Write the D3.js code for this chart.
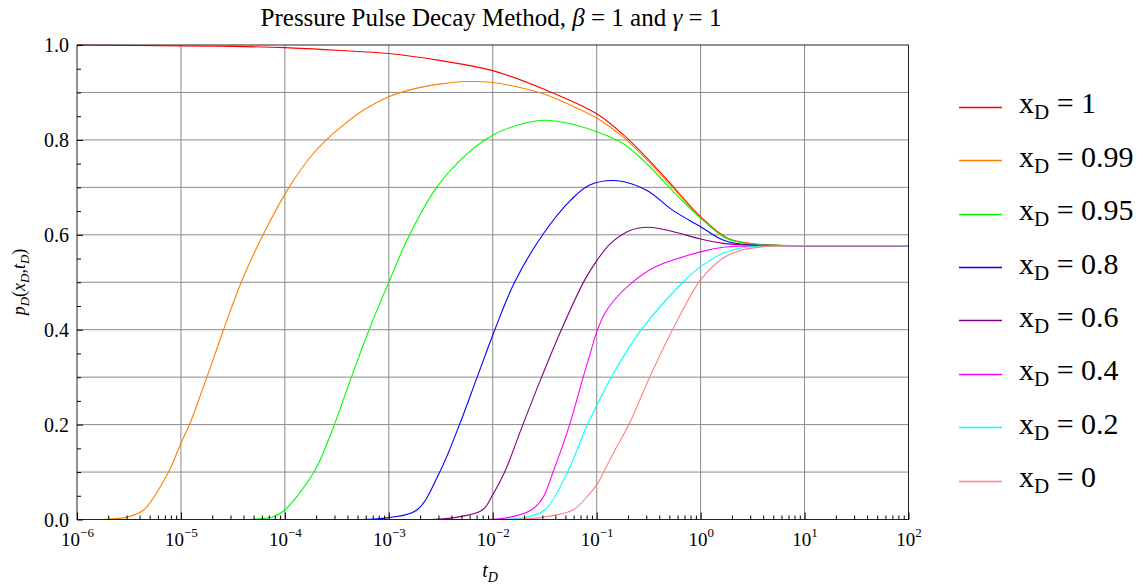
<!DOCTYPE html>
<html>
<head>
<meta charset="utf-8">
<script src="https://cdn.jsdelivr.net/npm/d3@7"></script>
<style>
  html, body { margin: 0; padding: 0; background: #ffffff; }
  svg { display: block; font-family: "Liberation Serif", "DejaVu Serif", serif; }
</style>
</head>
<body>
<svg id="chart" width="1143" height="588"></svg>
<script>
// ---------- data ----------
const seriesNames = ["1", "0.99", "0.95", "0.8", "0.6", "0.4", "0.2", "0"];
const seriesColors = ["#ff0000", "#ff8000", "#00ff00", "#0000ff", "#800080", "#ff00ff", "#00ffff", "#ff8080"];

// log10(t_D) sample positions and p_D values for each x_D
const logT_x100 = [-6, -5, -4.5, -4, -3.5, -3, -2.5, -2, -1.5, -1, -0.75, -0.5, -0.25, 0, 0.25, 0.5, 0.75, 1, 2];
const p_x100    = [1.0, 0.998, 0.997, 0.9945, 0.989, 0.982, 0.967, 0.946, 0.906, 0.855, 0.812, 0.758, 0.698, 0.638, 0.594, 0.581, 0.578, 0.577, 0.577];

const logT_x099 = [-6, -5.75, -5.52, -5.36, -5.12, -5.0, -4.92, -4.75, -4.59, -4.42, -4.21, -3.96, -3.75, -3.6, -3.5, -3.25, -3.0, -2.75, -2.5, -2.25, -2.0, -1.75, -1.5, -1.25, -1.0, -0.75, -0.5, -0.25, 0, 0.25, 0.5, 0.75, 1, 2];
const p_x099    = [0, 0, 0.005, 0.02, 0.10, 0.161, 0.199, 0.30, 0.40, 0.50, 0.60, 0.70, 0.765, 0.80, 0.82, 0.862, 0.891, 0.908, 0.918, 0.923, 0.921, 0.911, 0.896, 0.873, 0.846, 0.807, 0.754, 0.695, 0.636, 0.593, 0.5805, 0.578, 0.577, 0.577];

const logT_x095 = [-6, -4.35, -4.11, -4.0, -3.72, -3.567, -3.36, -3.19, -3.0, -2.8, -2.54, -2.25, -2.0, -1.75, -1.5, -1.25, -1.0, -0.75, -0.5, -0.25, 0, 0.25, 0.5, 0.75, 1, 2];
const p_x095    = [0, 0, 0.006, 0.02, 0.10, 0.175, 0.30, 0.40, 0.50, 0.60, 0.70, 0.770, 0.810, 0.832, 0.8415, 0.834, 0.817, 0.793, 0.746, 0.688, 0.635, 0.592, 0.580, 0.578, 0.577, 0.577];

const logT_x080 = [-6, -3.25, -3.0, -2.73, -2.51, -2.32, -2.15, -1.98, -1.79, -1.52, -1.25, -1.067, -0.8, -0.52, -0.27, 0, 0.215, 0.4, 0.75, 1, 2];
const p_x080    = [0, 0, 0.004, 0.02, 0.10, 0.20, 0.30, 0.40, 0.50, 0.60, 0.673, 0.705, 0.714, 0.694, 0.652, 0.617, 0.589, 0.580, 0.5775, 0.577, 0.577];

const logT_x060 = [-6, -2.6, -2.37, -2.1, -2.0, -1.885, -1.71, -1.53, -1.34, -1.115, -1.0, -0.875, -0.68, -0.5, -0.27, 0, 0.215, 0.5, 1, 2];
const p_x060    = [0, 0, 0.004, 0.02, 0.052, 0.10, 0.20, 0.30, 0.40, 0.505, 0.545, 0.580, 0.609, 0.616, 0.607, 0.591, 0.582, 0.578, 0.577, 0.577];

const logT_x040 = [-6, -2.05, -1.85, -1.63, -1.52, -1.42, -1.26, -1.13, -1.066, -1.0, -0.92, -0.84, -0.666, -0.43, 0, 0.215, 0.4, 1, 2];
const p_x040    = [0, 0, 0.004, 0.02, 0.045, 0.10, 0.20, 0.30, 0.347, 0.395, 0.435, 0.460, 0.498, 0.533, 0.564, 0.5737, 0.576, 0.577, 0.577];

const logT_x020 = [-6, -1.9, -1.7, -1.5, -1.28, -1.1, -1.0, -0.86, -0.57, -0.17, 0, 0.215, 0.375, 0.6, 1, 2];
const p_x020    = [0, 0, 0.004, 0.02, 0.10, 0.195, 0.24, 0.30, 0.40, 0.50, 0.533, 0.561, 0.5716, 0.576, 0.577, 0.577];

const logT_x000 = [-6, -1.8, -1.55, -1.23, -1.066, -0.997, -0.94, -0.82, -0.69, -0.49, -0.27, 0, 0.215, 0.375, 0.57, 0.8, 1, 2];
const p_x000    = [0, 0, 0.004, 0.02, 0.055, 0.074, 0.097, 0.148, 0.20, 0.30, 0.40, 0.505, 0.5505, 0.5665, 0.574, 0.5765, 0.577, 0.577];

const seriesLogT = [logT_x100, logT_x099, logT_x095, logT_x080, logT_x060, logT_x040, logT_x020, logT_x000];
const seriesP    = [p_x100, p_x099, p_x095, p_x080, p_x060, p_x040, p_x020, p_x000];

const xMajorExponents = [-6, -5, -4, -3, -2, -1, 0, 1, 2];
const yMajorTicks = [0, 0.2, 0.4, 0.6, 0.8, 1.0];
const yMinorTicks = [0.05, 0.1, 0.15, 0.25, 0.3, 0.35, 0.45, 0.5, 0.55, 0.65, 0.7, 0.75, 0.85, 0.9, 0.95];
const yGridValues = [0.1, 0.2, 0.3, 0.4, 0.5, 0.6, 0.7, 0.8, 0.9];

// ---------- layout ----------
const svg = d3.select("#chart");
const L = 77, R = 908.5, T = 45, B = 519.5;

const x = d3.scaleLog().domain([1e-6, 1e2]).range([L, R]);
const y = d3.scaleLinear().domain([0, 1]).range([B, T]);

const xMajor = xMajorExponents.map(e => Math.pow(10, e));
const xMinor = [];
xMajorExponents.slice(0, -1).forEach(e => { for (let k = 2; k <= 9; k++) xMinor.push(k * Math.pow(10, e)); });

svg.append("defs").append("clipPath").attr("id", "plotclip")
  .append("rect").attr("x", L - 1).attr("y", T - 1).attr("width", R - L + 2).attr("height", B - T + 1.5);

// ---------- grid ----------
const grid = svg.append("g").attr("stroke", "#8a8a8a").attr("stroke-width", 1);
grid.selectAll("line.v").data(xMajor.slice(1, -1)).join("line")
  .attr("x1", d => x(d)).attr("x2", d => x(d)).attr("y1", T).attr("y2", B);
grid.selectAll("line.h").data(yGridValues).join("line")
  .attr("x1", L).attr("x2", R).attr("y1", d => y(d)).attr("y2", d => y(d));

// ---------- curves ----------
const line = d3.line().x(d => x(Math.pow(10, d[0]))).y(d => y(d[1])).curve(d3.curveCatmullRom.alpha(0.5));
const curves = svg.append("g").attr("fill", "none").attr("stroke-width", 1.1).attr("clip-path", "url(#plotclip)");
seriesLogT.forEach((lt, i) => {
  const pts = lt.map((v, j) => [v, seriesP[i][j]]);
  curves.append("path").attr("d", line(pts)).attr("stroke", seriesColors[i]);
});

// ---------- frame ----------
svg.append("rect").attr("x", L).attr("y", T).attr("width", R - L).attr("height", B - T)
  .attr("fill", "none").attr("stroke", "#222").attr("stroke-width", 1);

// ---------- axes ----------
const gx = svg.append("g").attr("transform", `translate(0,${B})`)
  .call(d3.axisBottom(x).tickValues(xMajor).tickSize(-7).tickFormat(() => ""));
gx.select(".domain").remove();
gx.selectAll("line").attr("stroke", "#000");
gx.selectAll(".tick text").each(function(d, i) {
  const t = d3.select(this);
  t.attr("y", 26).attr("dy", null).attr("font-size", 19).attr("fill", "#000")
   .attr("font-family", "Liberation Serif, serif");
  t.append("tspan").text("10");
  const e = xMajorExponents[i];
  t.append("tspan").attr("font-size", 13).attr("dy", -9).text(e < 0 ? "\u2212" + Math.abs(e) : String(e));
});

const gxm = svg.append("g").attr("transform", `translate(0,${B})`)
  .call(d3.axisBottom(x).tickValues(xMinor).tickSize(-4).tickFormat(() => ""));
gxm.select(".domain").remove();
gxm.selectAll("line").attr("stroke", "#000");
gxm.selectAll("text").remove();

const gy = svg.append("g").attr("transform", `translate(${L},0)`)
  .call(d3.axisLeft(y).tickValues(yMajorTicks).tickSize(-6).tickPadding(8).tickFormat(d3.format(".1f")));
gy.select(".domain").remove();
gy.selectAll("line").attr("stroke", "#000");
gy.selectAll("text").attr("font-size", 20).attr("fill", "#000").attr("font-family", "Liberation Serif, serif")
  .attr("dy", "0.33em");

const gym = svg.append("g").attr("transform", `translate(${L},0)`)
  .call(d3.axisLeft(y).tickValues(yMinorTicks).tickSize(-4).tickFormat(() => ""));
gym.select(".domain").remove();
gym.selectAll("line").attr("stroke", "#000");
gym.selectAll("text").remove();

// ---------- title ----------
const title = svg.append("text").attr("x", 491).attr("y", 26)
  .attr("text-anchor", "middle").attr("font-size", 25).attr("fill", "#000");
title.append("tspan").text("Pressure Pulse Decay Method, ");
title.append("tspan").attr("font-style", "italic").text("\u03B2");
title.append("tspan").text(" = 1 and ");
title.append("tspan").attr("font-style", "italic").text("\u03B3");
title.append("tspan").text(" = 1");

// ---------- axis labels ----------
const xl = svg.append("text").attr("x", 490).attr("y", 577).attr("text-anchor", "middle")
  .attr("font-size", 20).attr("font-style", "italic").attr("fill", "#000");
xl.append("tspan").text("t");
xl.append("tspan").attr("font-size", 14).attr("dy", 5).text("D");

const yl = svg.append("text").attr("transform", "translate(25,282) rotate(-90)")
  .attr("text-anchor", "middle").attr("font-size", 18).attr("font-style", "italic").attr("fill", "#000");
yl.append("tspan").text("p");
yl.append("tspan").attr("font-size", 13).attr("dy", 4).text("D");
yl.append("tspan").attr("dy", -4).attr("font-style", "normal").text("(");
yl.append("tspan").text("x");
yl.append("tspan").attr("font-size", 13).attr("dy", 4).text("D");
yl.append("tspan").attr("dy", -4).attr("font-style", "normal").text(",");
yl.append("tspan").text("t");
yl.append("tspan").attr("font-size", 13).attr("dy", 4).text("D");
yl.append("tspan").attr("dy", -4).attr("font-style", "normal").text(")");

// ---------- legend ----------
const legend = svg.append("g");
seriesNames.forEach((name, i) => {
  const cy = 106.7 + i * 53.4;
  const ly = Math.round(cy) + 0.5;
  legend.append("line").attr("x1", 959).attr("x2", 1002).attr("y1", ly).attr("y2", ly)
    .attr("stroke", seriesColors[i]).attr("stroke-width", 1.3);
  const t = legend.append("text").attr("x", 1019).attr("y", cy + 6.7).attr("font-size", 30).attr("fill", "#000");
  t.append("tspan").text("x");
  t.append("tspan").attr("font-size", 21).attr("dy", 6).text("D");
  t.append("tspan").attr("dy", -6).text(" = " + name);
});
</script>
</body>
</html>
